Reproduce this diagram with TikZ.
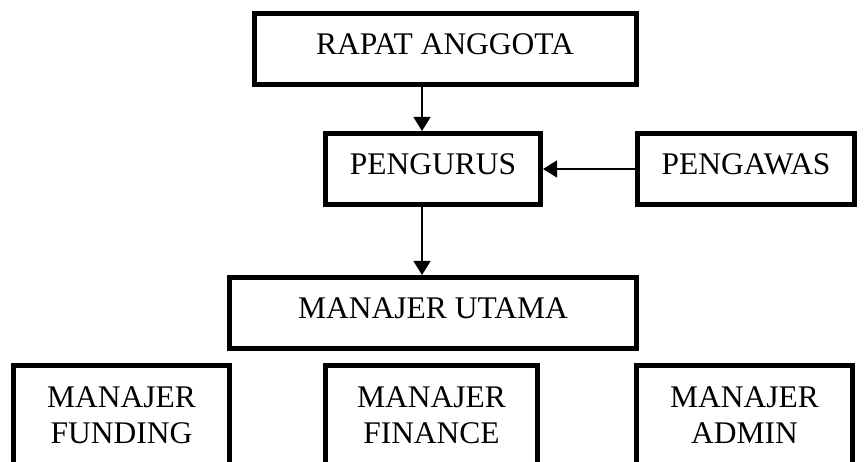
\documentclass[tikz,border=0pt]{standalone}
\usepackage{fontspec}
\setmainfont{Liberation Serif}
\usetikzlibrary{arrows.meta}

\begin{document}
\begin{tikzpicture}[x=1pt,y=-1pt,
  orgbox/.style={draw,line width=5pt,inner sep=0pt,minimum height=71pt,
    text depth=10pt,font=\fontsize{31.5}{36}\selectfont},
  orgtall/.style={orgbox,minimum height=99pt,text depth=0pt,align=center},
  orgarrow/.style={line width=1.3pt,-{Triangle[length=14pt,width=17pt]}}]
  \useasboundingbox (0,0) rectangle (867,462);

  \node[orgbox,minimum width=382pt] (rapat) at (445,49) {RAPAT ANGGOTA};
  \node[orgbox,minimum width=215pt] (pengurus) at (433,169) {PENGURUS};
  \node[orgbox,minimum width=217pt] (pengawas) at (746,169) {PENGAWAS};
  \node[orgbox,minimum width=407pt] (utama) at (433,313) {MANAJER UTAMA};

  % Manajer row
  \foreach \nm/\x/\w/\txt in {
    funding/121.5/216/FUNDING,
    finance/431.5/212/FINANCE,
    admin/744.5/216/ADMIN
  }{
    \node[orgtall,minimum width=\w pt] (\nm) at (\x,415) {MANAJER\\\txt};
  }

  % Arrows
  \coordinate (spine) at (422,0);
  \draw[orgarrow] (rapat.south -| spine) -- (pengurus.north -| spine);
  \draw[orgarrow] (pengurus.south -| spine) -- (utama.north -| spine);
  \draw[orgarrow] (pengawas.west) -- (pengurus.east);
\end{tikzpicture}
\end{document}
